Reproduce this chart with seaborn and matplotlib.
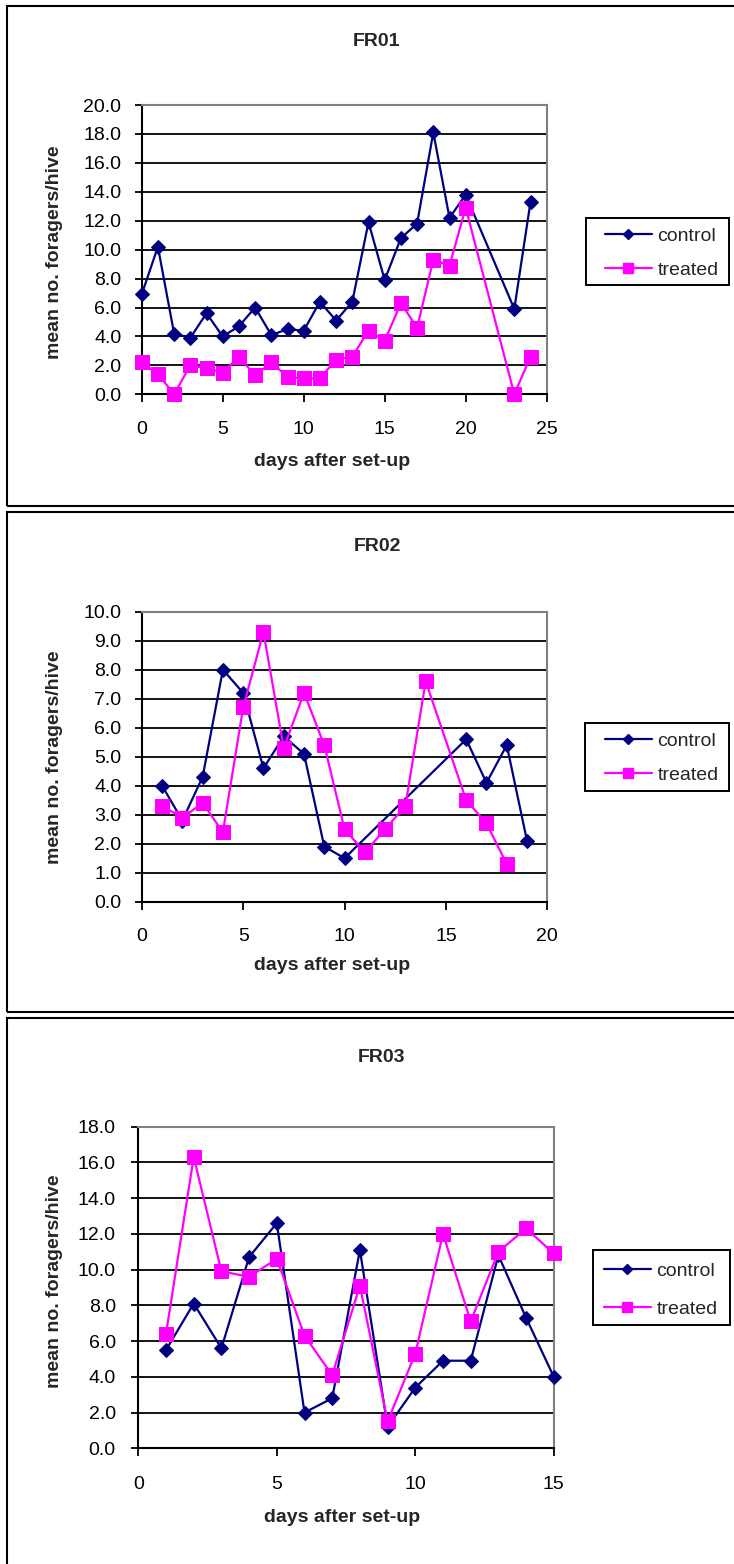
import matplotlib
matplotlib.use("Agg")
import matplotlib.pyplot as plt
import pandas as pd
import seaborn as sns
from matplotlib.lines import Line2D
from matplotlib.patches import Rectangle
from matplotlib.ticker import FormatStrFormatter, MultipleLocator

sns.set_style("white")
plt.rcParams["font.family"] = ["Liberation Sans", "DejaVu Sans"]

# ---- data: mean number of foragers per hive, by day after set-up ----
fr01_days = [0, 1, 2, 3, 4, 5, 6, 7, 8, 9, 10, 11, 12, 13, 14, 15, 16, 17, 18, 19, 20, 23, 24]
fr01_control = [6.9, 10.2, 4.2, 3.9, 5.6, 4.0, 4.7, 6.0, 4.1, 4.5, 4.4, 6.4, 5.1, 6.4,
                11.9, 7.9, 10.8, 11.8, 18.1, 12.2, 13.8, 5.9, 13.3]
fr01_treated = [2.2, 1.4, 0.0, 2.0, 1.8, 1.5, 2.6, 1.3, 2.2, 1.2, 1.1, 1.1, 2.4, 2.6,
                4.4, 3.7, 6.3, 4.6, 9.3, 8.9, 12.9, 0.0, 2.6]

fr02_control_days = [1, 2, 3, 4, 5, 6, 7, 8, 9, 10, 16, 17, 18, 19]
fr02_control = [4.0, 2.8, 4.3, 8.0, 7.2, 4.6, 5.7, 5.1, 1.9, 1.5, 5.6, 4.1, 5.4, 2.1]
fr02_treated_days = [1, 2, 3, 4, 5, 6, 7, 8, 9, 10, 11, 12, 13, 14, 16, 17, 18]
fr02_treated = [3.3, 2.9, 3.4, 2.4, 6.7, 9.3, 5.3, 7.2, 5.4, 2.5, 1.7, 2.5, 3.3, 7.6, 3.5, 2.7, 1.3]

fr03_days = [1, 2, 3, 4, 5, 6, 7, 8, 9, 10, 11, 12, 13, 14, 15]
fr03_control = [5.5, 8.1, 5.6, 10.7, 12.6, 2.0, 2.8, 11.1, 1.2, 3.4, 4.9, 4.9, 10.8, 7.3, 4.0]
fr03_treated = [6.4, 16.3, 9.9, 9.6, 10.6, 6.3, 4.1, 9.1, 1.5, 5.3, 12.0, 7.1, 11.0, 12.3, 10.9]

series_names = ["control", "treated"]
titles = ["FR01", "FR02", "FR03"]
x_label = "days after set-up"
y_label = "mean no. foragers/hive"

CONTROL_COLOR = "#000080"
TREATED_COLOR = "#FF00FF"

W, H = 734, 1564
fig = plt.figure(figsize=(W / 100, H / 100), dpi=100)
fig.patch.set_facecolor("white")


def fx(x):
    return x / W


def fy(y):
    return 1 - y / H


def make_frame(rows):
    return pd.DataFrame(rows, columns=["day", "value", "group"])


panels = [
    dict(title=titles[0],
         control=(fr01_days, fr01_control), treated=(fr01_days, fr01_treated),
         axes=(141.7, 105.0, 546.7, 394.3), xmax=25, ymax=20, ystep=2,
         title_xy=(377, 41.7), xlabel_xy=(332, 461), ylabel_xy=(55, 252),
         legend_box=(585.7, 218, 729, 285), legend_anchor=(605, 227.5), labelspacing=0.83,
         xpad=13.2, ypad=9.4, border=(7.3, 5.7, 760, 505.7)),
    dict(title=titles[1],
         control=(fr02_control_days, fr02_control), treated=(fr02_treated_days, fr02_treated),
         axes=(141.8, 611.7, 547.3, 901.7), xmax=20, ymax=10, ystep=1,
         title_xy=(377, 546.7), xlabel_xy=(332, 966), ylabel_xy=(55, 756.7),
         legend_box=(585, 723, 729, 791), legend_anchor=(605, 732.5), labelspacing=0.84,
         xpad=13.2, ypad=9.4, border=(7.3, 512.3, 760, 1012.3)),
    dict(title=titles[2],
         control=(fr03_days, fr03_control), treated=(fr03_days, fr03_treated),
         axes=(138.3, 1126.6, 553.8, 1448.3), xmax=15, ymax=18, ystep=2,
         title_xy=(381.5, 1057.6), xlabel_xy=(341.8, 1518), ylabel_xy=(55, 1281.5),
         legend_box=(593, 1250, 730, 1325), legend_anchor=(604, 1262.5), labelspacing=1.02,
         xpad=14.5, ypad=11.0, border=(7.3, 1018.3, 760, 1600)),
]

for p in panels:
    # chart-area border
    bx0, by0, bx1, by1 = p["border"]
    fig.add_artist(Rectangle((fx(bx0), fy(by1)), fx(bx1) - fx(bx0), fy(by0) - fy(by1),
                             transform=fig.transFigure, fill=False, ec="black", lw=1.5,
                             zorder=-2))

    x0, y0, x1, y1 = p["axes"]
    ax = fig.add_axes([fx(x0), fy(y1), fx(x1) - fx(x0), fy(y0) - fy(y1)])

    rows = [(d, v, "control") for d, v in zip(*p["control"])] + \
           [(d, v, "treated") for d, v in zip(*p["treated"])]
    df = make_frame(rows)

    sns.lineplot(data=df[df.group == "control"], x="day", y="value", ax=ax,
                 color=CONTROL_COLOR, marker="D", markersize=6.8, markeredgecolor=CONTROL_COLOR,
                 linewidth=1.6, errorbar=None, legend=False, clip_on=False, zorder=3)
    sns.lineplot(data=df[df.group == "treated"], x="day", y="value", ax=ax,
                 color=TREATED_COLOR, marker="s", markersize=9.8, markeredgecolor=TREATED_COLOR,
                 linewidth=1.6, errorbar=None, legend=False, clip_on=False, zorder=4)

    ax.set_xlim(0, p["xmax"])
    ax.set_ylim(0, p["ymax"])
    ax.xaxis.set_major_locator(MultipleLocator(5))
    ax.yaxis.set_major_locator(MultipleLocator(p["ystep"]))
    ax.yaxis.set_major_formatter(FormatStrFormatter("%.1f"))
    ax.set_xlabel("")
    ax.set_ylabel("")

    ax.yaxis.grid(True, color="black", linewidth=1.3)
    ax.xaxis.grid(False)
    ax.set_axisbelow(True)
    for side in ("left", "bottom"):
        ax.spines[side].set_color("black")
        ax.spines[side].set_linewidth(1.5)
    for side in ("top", "right"):
        ax.spines[side].set_color("#808080")
        ax.spines[side].set_linewidth(1.5)

    ax.tick_params(axis="x", bottom=True, direction="out", length=5.8, width=1.3,
                   pad=p["xpad"], labelsize=14, colors="black")
    ax.tick_params(axis="y", left=True, direction="out", length=5.2, width=1.3,
                   pad=p["ypad"], labelsize=14, colors="black")

    fig.text(fx(p["title_xy"][0]), fy(p["title_xy"][1]), p["title"], ha="center", va="center",
             fontsize=14, fontweight="bold")
    fig.text(fx(p["xlabel_xy"][0]), fy(p["xlabel_xy"][1]), x_label, ha="center", va="center",
             fontsize=14, fontweight="bold")
    fig.text(fx(p["ylabel_xy"][0]), fy(p["ylabel_xy"][1]), y_label, ha="center", va="center",
             rotation=90, fontsize=14, fontweight="bold")

    # legend box (drawn beneath) and legend entries
    lx0, ly0, lx1, ly1 = p["legend_box"]
    fig.add_artist(Rectangle((fx(lx0), fy(ly1)), fx(lx1) - fx(lx0), fy(ly0) - fy(ly1),
                             transform=fig.transFigure, facecolor="white", ec="black", lw=1.4,
                             zorder=-1))
    handles = [
        Line2D([], [], color=CONTROL_COLOR, marker="D", markersize=5.2, lw=1.6),
        Line2D([], [], color=TREATED_COLOR, marker="s", markersize=7.6, lw=1.6),
    ]
    leg = fig.legend(handles, series_names, loc="upper left",
                     bbox_to_anchor=(fx(p["legend_anchor"][0]), fy(p["legend_anchor"][1])),
                     bbox_transform=fig.transFigure, frameon=False, borderpad=0,
                     borderaxespad=0, handlelength=2.4, handletextpad=0.3,
                     labelspacing=p["labelspacing"], fontsize=14)
    leg.set_zorder(5)

fig.savefig("out.png", dpi=100, facecolor="white")
